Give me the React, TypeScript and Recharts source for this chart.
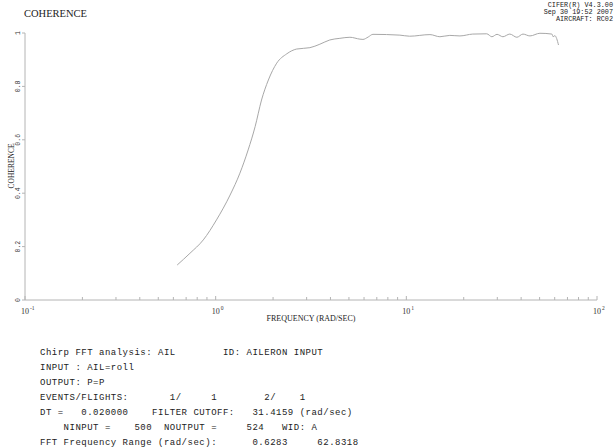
import React from 'react';
import { LineChart, Line, XAxis, YAxis } from 'recharts';

// Coherence vs frequency (rad/sec)
const freq = [
  0.6283, 0.733, 0.861, 1.01, 1.19, 1.34, 1.48, 1.61, 1.74, 1.89, 2.09, 2.36,
  2.66, 3.12, 3.52, 3.97, 4.48, 5.06, 5.71, 5.92, 6.31, 6.68, 9.25, 10.4,
  13.3, 15.0, 16.9, 19.1, 22.3, 26.4, 28.1, 29.9, 32.1, 34.9, 38.0, 40.9,
  44.5, 50.2, 58.0, 58.9, 60.1, 62.83,
];
const coherence = [
  0.131, 0.175, 0.225, 0.300, 0.393, 0.475, 0.562, 0.649, 0.749, 0.824, 0.887, 0.922,
  0.940, 0.945, 0.958, 0.974, 0.980, 0.984, 0.977, 0.976, 0.985, 0.995, 0.992, 0.988,
  0.994, 0.986, 0.991, 0.989, 0.996, 0.997, 0.986, 0.995, 0.986, 0.996, 0.984, 0.996,
  0.989, 0.999, 0.996, 0.986, 0.990, 0.955,
];

const xMajor = [0.1, 1, 10, 100];
const xMajorExp = ['-1', '0', '1', '2'];
const xMinor = [
  0.2, 0.3, 0.4, 0.5, 0.6, 0.7, 0.8, 0.9,
  2, 3, 4, 5, 6, 7, 8, 9,
  20, 30, 40, 50, 60, 70, 80, 90,
];
const yTicks = [0, 0.2, 0.4, 0.6, 0.8, 1];
const yTickLabels = ['0', '0.2', '0.4', '0.6', '0.8', '1'];

const headerLines = ['CIFER(R) V4.3.00', 'Sep 30 19:52 2007', 'AIRCRAFT: RC02'];
const infoLines = [
  'Chirp FFT analysis: AIL        ID: AILERON INPUT',
  'INPUT : AIL=roll',
  'OUTPUT: P=P',
  'EVENTS/FLIGHTS:       1/     1        2/    1',
  'DT =   0.020000    FILTER CUTOFF:   31.4159 (rad/sec)',
  '    NINPUT =    500  NOUTPUT =     524   WID: A',
  'FFT Frequency Range (rad/sec):      0.6283     62.8318',
];

const data = freq.map((f, i) => ({ freq: f, coh: coherence[i] }));

const AXIS = '#b4b4b4';
const MONO = '"Liberation Mono", "DejaVu Sans Mono", monospace';
const SERIF = '"Liberation Serif", "DejaVu Serif", serif';

const XTick = (props: any) => {
  const { x, y, payload } = props;
  const idx = xMajor.indexOf(payload.value);
  const major = idx >= 0;
  return (
    <g>
      <line x1={x} x2={x} y1={y} y2={y - (major ? 4 : 3)} stroke={AXIS} />
      {major && (
        <g>
          <text x={x} y={y + 14} textAnchor="middle" fontSize={8} fontFamily={SERIF} fill="#333">10</text>
          <text x={x + 5} y={y + 10} textAnchor="start" fontSize={5.5} fontFamily={SERIF} fill="#333">{xMajorExp[idx]}</text>
        </g>
      )}
    </g>
  );
};

const YTick = (props: any) => {
  const { x, y, payload } = props;
  const idx = yTicks.indexOf(payload.value);
  return (
    <g>
      <line x1={x - 3} x2={x} y1={y} y2={y} stroke={AXIS} />
      <text
        x={x - 5}
        y={y}
        textAnchor="middle"
        fontSize={6.5}
        fontFamily={MONO}
        fill="#333"
        transform={`rotate(-90 ${x - 5} ${y})`}
      >
        {yTickLabels[idx]}
      </text>
    </g>
  );
};

export default function App() {
  return (
    <div style={{ position: 'relative', width: 615, height: 447, background: '#fff' }}>
      <style>{'body{margin:0}'}</style>
      <LineChart
        width={615}
        height={447}
        data={data}
        margin={{ top: 33, right: 18, bottom: 127, left: 0 }}
      >
        <XAxis
          dataKey="freq"
          type="number"
          scale="log"
          domain={[0.1, 100]}
          ticks={[...xMajor, ...xMinor]}
          interval={0}
          allowDataOverflow
          height={20}
          tickSize={0}
          tickMargin={0}
          tickLine={false}
          axisLine={{ stroke: AXIS }}
          tick={<XTick />}
        />
        <YAxis
          type="number"
          domain={[0, 1]}
          ticks={yTicks}
          interval={0}
          width={25}
          tickSize={0}
          tickMargin={0}
          tickLine={false}
          axisLine={{ stroke: AXIS }}
          tick={<YTick />}
        />
        <Line
          type="monotone"
          dataKey="coh"
          stroke="#a8a8a8"
          strokeWidth={1}
          dot={false}
          isAnimationActive={false}
        />
      </LineChart>

      <svg
        width={615}
        height={447}
        style={{ position: 'absolute', left: 0, top: 0, pointerEvents: 'none' }}
      >
        <text x={24} y={17} fontFamily={SERIF} fontSize={10.5} fill="#222">COHERENCE</text>
        {headerLines.map((l, i) => (
          <text key={l} x={613} y={7 + i * 6.8} textAnchor="end" fontFamily={MONO} fontSize={6.8} fill="#222">
            {l}
          </text>
        ))}
        <text
          x={14}
          y={166}
          textAnchor="middle"
          fontFamily={SERIF}
          fontSize={7.5}
          fill="#222"
          transform="rotate(-90 14 166)"
        >
          COHERENCE
        </text>
        <text x={311} y={321} textAnchor="middle" fontFamily={SERIF} fontSize={8} fill="#222">
          FREQUENCY (RAD/SEC)
        </text>
        {infoLines.map((l, i) => (
          <text
            key={l}
            x={40}
            y={355 + i * 15}
            fontFamily={MONO}
            fontSize={9}
            letterSpacing={0.5}
            fill="#222"
            style={{ whiteSpace: 'pre' }}
          >
            {l}
          </text>
        ))}
      </svg>
    </div>
  );
}
